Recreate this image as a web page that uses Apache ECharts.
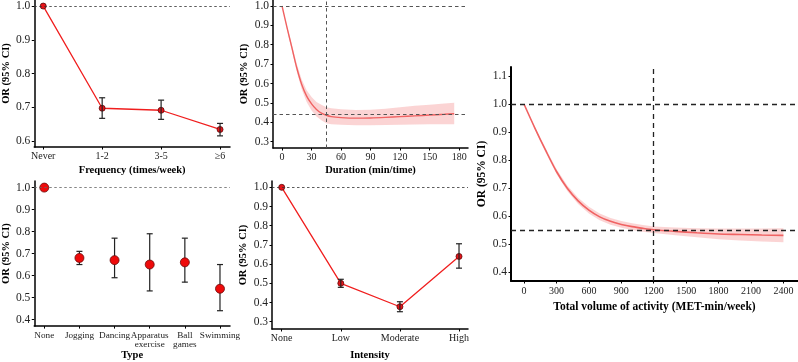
<!DOCTYPE html>
<html>
<head>
<meta charset="utf-8">
<script src="https://cdn.jsdelivr.net/npm/echarts@6/dist/echarts.min.js"></script>
<style>
  html, body { margin: 0; padding: 0; background: #fff; }
  #chart { width: 798px; height: 362px; }
</style>
</head>
<body>
<div id="chart"></div>
<script>
// frequency panel
const freqCats = ['Never', '1-2', '3-5', '≥6'];
const freqOR = [1.0, 0.697, 0.691, 0.634];
const freqLow = [null, 0.667, 0.664, 0.615];
const freqHigh = [null, 0.728, 0.721, 0.652];
const freqYTicks = [0.6, 0.7, 0.8, 0.9, 1.0];

// duration panel (spline + CI band)
const durX = [0, 5, 10, 15, 20, 25, 30, 35, 40, 45, 50, 60, 75, 90, 105, 120, 135, 150, 165, 175];
const durY = [1.0, 0.89, 0.785, 0.68, 0.595, 0.535, 0.495, 0.466, 0.447, 0.436, 0.429, 0.424, 0.421, 0.422, 0.425, 0.429, 0.433, 0.437, 0.441, 0.444];
const durLow = [1.0, 0.88, 0.77, 0.66, 0.57, 0.505, 0.46, 0.43, 0.41, 0.395, 0.39, 0.387, 0.385, 0.385, 0.386, 0.387, 0.388, 0.389, 0.39, 0.39];
const durHigh = [1.0, 0.9, 0.8, 0.7, 0.62, 0.565, 0.53, 0.505, 0.49, 0.478, 0.472, 0.467, 0.463, 0.465, 0.47, 0.478, 0.485, 0.49, 0.497, 0.5];
const durXTicks = [0, 30, 60, 90, 120, 150, 180];
const durYTicks = [0.3, 0.4, 0.5, 0.6, 0.7, 0.8, 0.9, 1.0];

// type panel
const typeCats = ['None', 'Jogging', 'Dancing', 'Apparatus\nexercise', 'Ball\ngames', 'Swimming'];
const typeOR = [1.0, 0.68, 0.67, 0.65, 0.66, 0.54];
const typeLow = [null, 0.65, 0.59, 0.53, 0.57, 0.44];
const typeHigh = [null, 0.71, 0.77, 0.79, 0.77, 0.65];
const typeYTicks = [0.4, 0.5, 0.6, 0.7, 0.8, 0.9, 1.0];

// intensity panel
const intCats = ['None', 'Low', 'Moderate', 'High'];
const intOR = [1.0, 0.50, 0.378, 0.640];
const intLow = [null, 0.479, 0.352, 0.579];
const intHigh = [null, 0.521, 0.404, 0.706];
const intYTicks = [0.3, 0.4, 0.5, 0.6, 0.7, 0.8, 0.9, 1.0];

// total volume panel
const volX = [0, 100, 200, 300, 400, 500, 600, 700, 800, 900, 1000, 1100, 1200, 1400, 1600, 1800, 2000, 2200, 2400];
const volY = [1.0, 0.915, 0.835, 0.76, 0.70, 0.655, 0.622, 0.598, 0.582, 0.571, 0.563, 0.557, 0.552, 0.546, 0.541, 0.537, 0.535, 0.533, 0.532];
const volLow = [1.0, 0.911, 0.828, 0.751, 0.69, 0.644, 0.61, 0.586, 0.57, 0.559, 0.551, 0.545, 0.54, 0.532, 0.525, 0.518, 0.514, 0.51, 0.507];
const volHigh = [1.0, 0.919, 0.842, 0.769, 0.71, 0.666, 0.634, 0.61, 0.594, 0.583, 0.575, 0.569, 0.564, 0.56, 0.557, 0.556, 0.556, 0.556, 0.557];
const volXTicks = [0, 300, 600, 900, 1200, 1500, 1800, 2100, 2400];
const volYTicks = [0.4, 0.5, 0.6, 0.7, 0.8, 0.9, 1.0, 1.1];

const FONT = '"Liberation Serif", "Times New Roman", serif';
const RED = '#f01e1e';
const CURVE = '#f06262';
const BAND = 'rgba(246, 160, 160, 0.45)';

const chart = echarts.init(document.getElementById('chart'));

function xAxisOf(grid, min, max, ticks, fmt, name, gap, opt = {}) {
    return {
        type: 'value', gridIndex: grid, min: min, max: max,
        name: name, nameLocation: 'middle', nameGap: gap,
        nameTextStyle: { fontFamily: FONT, fontWeight: 'bold', fontSize: opt.nameSize || 10.5, color: '#000' },
        axisLine: { show: true, onZero: false, lineStyle: { color: '#000', width: opt.lw || 1.5 } },
        axisTick: { show: true, customValues: ticks, length: 2.5, lineStyle: { color: '#000', width: 1 } },
        axisLabel: {
            customValues: ticks, formatter: fmt, margin: opt.margin || 5,
            fontFamily: FONT, fontSize: opt.labelSize || 10, color: '#222', lineHeight: 9
        },
        splitLine: { show: false }
    };
}

function yAxisOf(grid, min, max, ticks, gap, opt = {}) {
    return {
        type: 'value', gridIndex: grid, min: min, max: max,
        name: 'OR (95% CI)', nameLocation: 'middle', nameGap: gap, nameRotate: 90,
        nameTextStyle: { fontFamily: FONT, fontWeight: 'bold', fontSize: opt.nameSize || 10.5, color: '#000' },
        axisLine: { show: true, onZero: false, lineStyle: { color: '#000', width: opt.lw || 1.5 } },
        axisTick: { show: true, customValues: ticks, length: 2.5, lineStyle: { color: '#000', width: 1 } },
        axisLabel: {
            customValues: ticks, formatter: (v) => v.toFixed(1), margin: 4,
            fontFamily: FONT, fontSize: 11.5, color: '#222'
        },
        splitLine: { show: false }
    };
}

function catFmt(cats) {
    return (v) => cats[Math.round(v) - 1];
}

function errData(low, high) {
    const out = [];
    low.forEach((l, i) => {
        if (l !== null) out.push([i + 1, l, high[i]]);
    });
    return out;
}

function errorBars(idx, low, high, cap) {
    return {
        type: 'custom', xAxisIndex: idx, yAxisIndex: idx, z: 3,
        data: errData(low, high),
        encode: { x: 0, y: [1, 2] },
        renderItem: (params, api) => {
            const x = api.value(0);
            const top = api.coord([x, api.value(2)]);
            const bot = api.coord([x, api.value(1)]);
            const st = { stroke: '#222', lineWidth: 1.2 };
            return {
                type: 'group', children: [
                    { type: 'line', shape: { x1: top[0], y1: top[1], x2: bot[0], y2: bot[1] }, style: st },
                    { type: 'line', shape: { x1: top[0] - cap, y1: top[1], x2: top[0] + cap, y2: top[1] }, style: st },
                    { type: 'line', shape: { x1: bot[0] - cap, y1: bot[1], x2: bot[0] + cap, y2: bot[1] }, style: st }
                ]
            };
        }
    };
}

function band(idx, xs, low, high) {
    return {
        type: 'custom', xAxisIndex: idx, yAxisIndex: idx, z: 1,
        data: [[xs[0], low[0]]],
        renderItem: (params, api) => {
            const pts = [];
            xs.forEach((x, i) => pts.push(api.coord([x, high[i]])));
            for (let i = xs.length - 1; i >= 0; i--) pts.push(api.coord([xs[i], low[i]]));
            return { type: 'polygon', shape: { points: pts }, style: { fill: BAND } };
        }
    };
}

function refLines(lines, style) {
    return {
        silent: true, symbol: 'none', animation: false,
        label: { show: false },
        lineStyle: Object.assign({ color: '#333', type: 'dashed', width: 1 }, style),
        emphasis: { disabled: true },
        data: lines
    };
}

function pairs(xs, ys) {
    return xs.map((x, i) => [x, ys[i]]);
}

chart.setOption({
    animation: false,
    grid: [
        { left: 33, top: 0, width: 197, height: 147 },
        { left: 273, top: 0, width: 195, height: 148 },
        { left: 34, top: 181, width: 196, height: 147 },
        { left: 272, top: 181, width: 196, height: 148 },
        { left: 511, top: 67, width: 287, height: 214 }
    ],
    xAxis: [
        xAxisOf(0, 0.848, 4.169, [1, 2, 3, 4], catFmt(freqCats), 'Frequency (times/week)', 18),
        xAxisOf(1, -9.2, 189, durXTicks, (v) => String(v), 'Duration (min/time)', 17),
        xAxisOf(2, 0.715, 6.285, [1, 2, 3, 4, 5, 6], catFmt(typeCats), 'Type', 22, { labelSize: 9.2 }),
        xAxisOf(3, 0.836, 4.152, [1, 2, 3, 4], catFmt(intCats), 'Intensity', 21),
        xAxisOf(4, -121, 2535, volXTicks, (v) => String(v), 'Total volume of activity (MET-min/week)', 20,
            { lw: 2, nameSize: 11.5, margin: 6 })
    ],
    yAxis: [
        yAxisOf(0, 0.582, 1.018, freqYTicks, 18),
        yAxisOf(1, 0.267, 1.031, durYTicks, 23),
        yAxisOf(2, 0.370, 1.030, typeYTicks, 18),
        yAxisOf(3, 0.262, 1.033, intYTicks, 23),
        yAxisOf(4, 0.369, 1.133, volYTicks, 23, { lw: 2, nameSize: 11.5 })
    ],
    series: [
        // frequency
        {
            type: 'line', xAxisIndex: 0, yAxisIndex: 0, z: 2,
            data: pairs([1, 2, 3, 4], freqOR),
            lineStyle: { color: RED, width: 1.3 },
            symbol: 'circle', symbolSize: 6,
            itemStyle: { color: '#e8141a', borderColor: '#5a0a0a', borderWidth: 0.8 },
            markLine: refLines([{ yAxis: 1.0 }], { type: [2.5, 2.5], width: 0.8 })
        },
        errorBars(0, freqLow, freqHigh, 3),
        // duration
        band(1, durX, durLow, durHigh),
        {
            type: 'line', xAxisIndex: 1, yAxisIndex: 1, z: 2,
            data: pairs(durX, durY), smooth: 0.3, showSymbol: false,
            lineStyle: { color: CURVE, width: 1.4 },
            markLine: refLines([{ yAxis: 1.0 }, { yAxis: 0.436 }, { xAxis: 45 }],
                { color: '#555', type: [3.5, 3], width: 1 })
        },
        // type
        errorBars(2, typeLow, typeHigh, 3),
        {
            type: 'scatter', xAxisIndex: 2, yAxisIndex: 2, z: 4,
            data: pairs([1, 2, 3, 4, 5, 6], typeOR),
            symbol: 'circle', symbolSize: 9,
            itemStyle: { color: '#ee0a0a', borderColor: '#6a0a0a', borderWidth: 0.8, opacity: 1 },
            markLine: refLines([{ yAxis: 1.0 }], { color: '#666', type: [2.5, 2.5], width: 0.8 })
        },
        // intensity
        {
            type: 'line', xAxisIndex: 3, yAxisIndex: 3, z: 2,
            data: pairs([1, 2, 3, 4], intOR),
            lineStyle: { color: RED, width: 1.3 },
            symbol: 'circle', symbolSize: 6,
            itemStyle: { color: '#e8141a', borderColor: '#5a0a0a', borderWidth: 0.8 },
            markLine: refLines([{ yAxis: 1.0 }], { type: [2.5, 2.5], width: 0.8 })
        },
        errorBars(3, intLow, intHigh, 3),
        // total volume
        band(4, volX, volLow, volHigh),
        {
            type: 'line', xAxisIndex: 4, yAxisIndex: 4, z: 2,
            data: pairs(volX, volY), smooth: 0.3, showSymbol: false,
            lineStyle: { color: CURVE, width: 1.6 },
            markLine: refLines([{ yAxis: 1.0 }, { yAxis: 0.55 }, { xAxis: 1200 }],
                { color: '#222', type: [5, 4], width: 1.3 })
        }
    ]
});
</script>
</body>
</html>
